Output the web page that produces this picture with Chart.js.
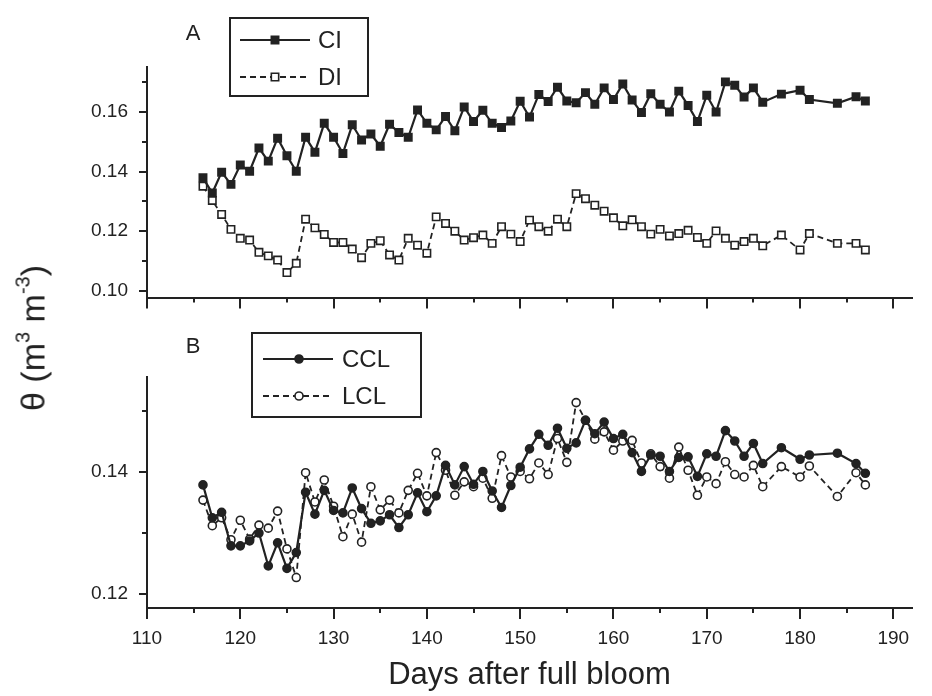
<!DOCTYPE html>
<html>
<head>
<meta charset="utf-8">
<script src="https://cdn.jsdelivr.net/npm/chart.js@4.4.1/dist/chart.umd.min.js"></script>
<style>
  html, body { margin: 0; padding: 0; background: #fff; }
  #wrap { position: relative; width: 932px; height: 696px; font-family: "Liberation Sans", Arial, sans-serif; color: #222; }
  #topBox { position: absolute; left: 0; top: 0; }
  #botBox { position: absolute; left: 0; top: 320px; }
  #ytitle { position: absolute; left: 33px; top: 338px; transform: translate(-50%, -50%) rotate(-90deg);
            font-size: 34px; white-space: nowrap; }
  #ytitle sup { font-size: 20px; vertical-align: 15px; line-height: 0; }
  .panel { position: absolute; font-size: 22px; transform: translate(-50%, -50%); }
</style>
</head>
<body>
<div id="wrap">
  <canvas id="topBox" width="932" height="320"></canvas>
  <canvas id="botBox" width="932" height="376"></canvas>
  <div id="ytitle">θ (m<sup>3</sup> m<sup>-3</sup>)</div>
  <div class="panel" style="left:193px; top:33px;">A</div>
  <div class="panel" style="left:193px; top:346px;">B</div>
</div>
<script>
// days after full bloom with a reading (no data on 177, 179, 182, 183, 185)
const days = [116, 117, 118, 119, 120, 121, 122, 123, 124, 125, 126, 127, 128, 129, 130,
  131, 132, 133, 134, 135, 136, 137, 138, 139, 140, 141, 142, 143, 144, 145,
  146, 147, 148, 149, 150, 151, 152, 153, 154, 155, 156, 157, 158, 159, 160,
  161, 162, 163, 164, 165, 166, 167, 168, 169, 170, 171, 172, 173, 174, 175,
  176, 178, 180, 181, 184, 186, 187];

// panel A
const ci = [0.1379, 0.1328, 0.1398, 0.1357, 0.1422, 0.1401, 0.1479, 0.1435, 0.1512, 0.1453, 0.1401, 0.1515, 0.1465, 0.1562, 0.1515,
  0.1461, 0.1557, 0.1506, 0.1526, 0.1485, 0.1559, 0.1531, 0.1515, 0.1607, 0.1562, 0.1540, 0.1585, 0.1537, 0.1617, 0.1568,
  0.1606, 0.1562, 0.1548, 0.1570, 0.1636, 0.1583, 0.1659, 0.1635, 0.1683, 0.1637, 0.1631, 0.1665, 0.1626, 0.1681, 0.1642,
  0.1694, 0.1640, 0.1598, 0.1661, 0.1626, 0.1600, 0.1670, 0.1622, 0.1568, 0.1656, 0.1600, 0.1701, 0.1690, 0.1650, 0.1681,
  0.1633, 0.1660, 0.1673, 0.1642, 0.1629, 0.1651, 0.1637];
const di = [0.1351, 0.1303, 0.1256, 0.1206, 0.1176, 0.1170, 0.1129, 0.1117, 0.1103, 0.1061, 0.1092, 0.1240, 0.1211, 0.1189, 0.1162,
  0.1162, 0.1140, 0.1111, 0.1159, 0.1168, 0.1120, 0.1103, 0.1176, 0.1153, 0.1126, 0.1248, 0.1226, 0.1200, 0.1170, 0.1178,
  0.1187, 0.1159, 0.1215, 0.1190, 0.1165, 0.1237, 0.1215, 0.1200, 0.1240, 0.1215, 0.1326, 0.1309, 0.1287, 0.1267, 0.1245,
  0.1218, 0.1238, 0.1215, 0.1190, 0.1206, 0.1184, 0.1192, 0.1203, 0.1179, 0.1159, 0.1201, 0.1176, 0.1153, 0.1165, 0.1176,
  0.1151, 0.1187, 0.1137, 0.1192, 0.1159, 0.1159, 0.1137];

// panel B
const ccl = [0.1379, 0.1325, 0.1334, 0.1279, 0.1279, 0.1287, 0.1300, 0.1246, 0.1284, 0.1242, 0.1268, 0.1367, 0.1331, 0.1370, 0.1337,
  0.1333, 0.1374, 0.1340, 0.1316, 0.1320, 0.1330, 0.1309, 0.1330, 0.1366, 0.1335, 0.1361, 0.1411, 0.1379, 0.1409, 0.1380,
  0.1401, 0.1369, 0.1342, 0.1378, 0.1408, 0.1438, 0.1462, 0.1444, 0.1472, 0.1439, 0.1448, 0.1485, 0.1463, 0.1482, 0.1455,
  0.1462, 0.1432, 0.1401, 0.1428, 0.1426, 0.1401, 0.1424, 0.1425, 0.1393, 0.1430, 0.1426, 0.1468, 0.1451, 0.1426, 0.1447,
  0.1414, 0.1440, 0.1421, 0.1428, 0.1431, 0.1414, 0.1398];
const lcl = [0.1354, 0.1312, 0.1325, 0.1289, 0.1321, 0.1290, 0.1313, 0.1308, 0.1336, 0.1274, 0.1227, 0.1399, 0.1351, 0.1387, 0.1344,
  0.1294, 0.1331, 0.1285, 0.1376, 0.1338, 0.1354, 0.1333, 0.1370, 0.1398, 0.1361, 0.1432, 0.1403, 0.1362, 0.1384, 0.1376,
  0.1390, 0.1357, 0.1427, 0.1392, 0.1401, 0.1389, 0.1415, 0.1396, 0.1455, 0.1416, 0.1514, 0.1485, 0.1454, 0.1466, 0.1436,
  0.1451, 0.1452, 0.1415, 0.1430, 0.1409, 0.1390, 0.1441, 0.1403, 0.1362, 0.1392, 0.1381, 0.1417, 0.1396, 0.1392, 0.1411,
  0.1376, 0.1409, 0.1392, 0.1410, 0.1360, 0.1399, 0.1379];

// ticks
const xMajor = [110, 120, 130, 140, 150, 160, 170, 180, 190];
const xMinor = [115, 125, 135, 145, 155, 165, 175, 185];
const aMajor = [0.10, 0.12, 0.14, 0.16];
const aMinor = [0.11, 0.13, 0.15, 0.17];
const bMajor = [0.12, 0.14];
const bMinor = [0.13, 0.15];

const ink = '#222';
const font = '"Liberation Sans", Arial, sans-serif';

function pts(vals) {
  return days.map((d, i) => ({ x: d, y: vals[i] }));
}

// short outward tick marks, majors longer than minors
const tickMarks = {
  id: 'tickMarks',
  afterDraw(chart, args, o) {
    const { ctx, chartArea, scales } = chart;
    ctx.save();
    ctx.strokeStyle = ink;
    ctx.lineWidth = 2;
    const yTick = (v, len) => {
      const p = Math.round(scales.y.getPixelForValue(v));
      ctx.beginPath(); ctx.moveTo(chartArea.left - len, p); ctx.lineTo(chartArea.left, p); ctx.stroke();
    };
    const xTick = (v, len) => {
      const p = Math.round(scales.x.getPixelForValue(v));
      ctx.beginPath(); ctx.moveTo(p, chartArea.bottom); ctx.lineTo(p, chartArea.bottom + len); ctx.stroke();
    };
    o.yMajor.forEach(v => yTick(v, 8));
    o.yMinor.forEach(v => yTick(v, 5));
    xMajor.forEach(v => xTick(v, 11));
    xMinor.forEach(v => xTick(v, 5));
    ctx.restore();
  }
};

// framed legend as in the figure
const boxLegend = {
  id: 'boxLegend',
  afterDraw(chart, args, o) {
    const ctx = chart.ctx;
    ctx.save();
    ctx.fillStyle = '#fff';
    ctx.fillRect(o.x, o.y, o.w, o.h);
    ctx.strokeStyle = ink;
    ctx.lineWidth = 2;
    ctx.strokeRect(o.x, o.y, o.w, o.h);
    chart.data.datasets.forEach((ds, i) => {
      const yy = o.y + o.rows[i];
      ctx.strokeStyle = ink;
      ctx.lineWidth = ds.borderWidth;
      ctx.setLineDash(ds.borderDash || []);
      ctx.beginPath(); ctx.moveTo(o.x + o.line[0], yy); ctx.lineTo(o.x + o.line[1], yy); ctx.stroke();
      ctx.setLineDash([]);
      ctx.fillStyle = ds.pointBackgroundColor;
      ctx.strokeStyle = ds.pointBorderColor;
      ctx.lineWidth = ds.pointBorderWidth;
      Chart.helpers.drawPoint(ctx, { pointStyle: ds.pointStyle, radius: ds.pointRadius, borderWidth: ds.pointBorderWidth, rotation: 0 },
        o.x + o.mark, yy);
      ctx.fillStyle = ink;
      ctx.font = '24px ' + font;
      ctx.textBaseline = 'middle';
      ctx.fillText(ds.label, o.x + o.text, yy + 1);
    });
    ctx.restore();
  }
};

function series(label, vals, solid, shape) {
  return {
    label: label,
    data: pts(vals),
    borderColor: ink,
    borderWidth: solid ? 2.2 : 1.8,
    borderDash: solid ? [] : [6, 4],
    pointStyle: shape,
    pointRadius: shape === 'rect' ? 5.2 : 4,
    pointBackgroundColor: solid ? ink : '#fff',
    pointBorderColor: ink,
    pointBorderWidth: 1.6,
    spanGaps: true,
    tension: 0
  };
}

function axes(yMin, yMax, yMajor, showX, xHeight) {
  return {
    x: {
      type: 'linear',
      min: 110,
      max: 192,
      afterBuildTicks: s => { s.ticks = xMajor.map(v => ({ value: v })); },
      afterFit: s => { s.height = xHeight; },
      border: { display: true, color: ink, width: 2 },
      grid: { drawOnChartArea: false, drawTicks: true, tickLength: 11, tickColor: 'rgba(0,0,0,0)' },
      ticks: {
        display: showX,
        color: ink,
        padding: 8,
        maxRotation: 0,
        font: { family: font, size: 19 },
        callback: v => String(v)
      },
      title: {
        display: showX,
        text: 'Days after full bloom',
        color: ink,
        padding: { top: 0, bottom: 2 },
        font: { family: font, size: 31 }
      }
    },
    y: {
      type: 'linear',
      min: yMin,
      max: yMax,
      afterBuildTicks: s => { s.ticks = yMajor.map(v => ({ value: v })); },
      afterFit: s => { s.width = 147; },
      border: { display: true, color: ink, width: 2 },
      grid: { drawOnChartArea: false, drawTicks: true, tickLength: 8, tickColor: 'rgba(0,0,0,0)' },
      ticks: {
        color: ink,
        padding: 11,
        font: { family: font, size: 19 },
        callback: v => v.toFixed(2)
      }
    }
  };
}

new Chart(document.getElementById('topBox'), {
  type: 'line',
  data: {
    datasets: [series('CI', ci, true, 'rect'), series('DI', di, false, 'rect')]
  },
  options: {
    responsive: false,
    animation: false,
    layout: { padding: { left: 0, top: 67, right: 20, bottom: 0 } },
    scales: axes(0.0977, 0.1751, aMajor, false, 21),
    plugins: {
      legend: { display: false },
      tooltip: { enabled: false },
      tickMarks: { yMajor: aMajor, yMinor: aMinor },
      boxLegend: { x: 230, y: 18, w: 138, h: 78, rows: [22, 59], line: [10, 80], mark: 45, text: 88 }
    }
  },
  plugins: [tickMarks, boxLegend]
});

new Chart(document.getElementById('botBox'), {
  type: 'line',
  data: {
    datasets: [series('CCL', ccl, true, 'circle'), series('LCL', lcl, false, 'circle')]
  },
  options: {
    responsive: false,
    animation: false,
    layout: { padding: { left: 0, top: 57, right: 20, bottom: 0 } },
    scales: axes(0.1177, 0.1556, bMajor, true, 88),
    plugins: {
      legend: { display: false },
      tooltip: { enabled: false },
      tickMarks: { yMajor: bMajor, yMinor: bMinor },
      boxLegend: { x: 252, y: 13, w: 169, h: 84, rows: [26, 63], line: [11, 81], mark: 47, text: 90 }
    }
  },
  plugins: [tickMarks, boxLegend]
});
</script>
</body>
</html>
